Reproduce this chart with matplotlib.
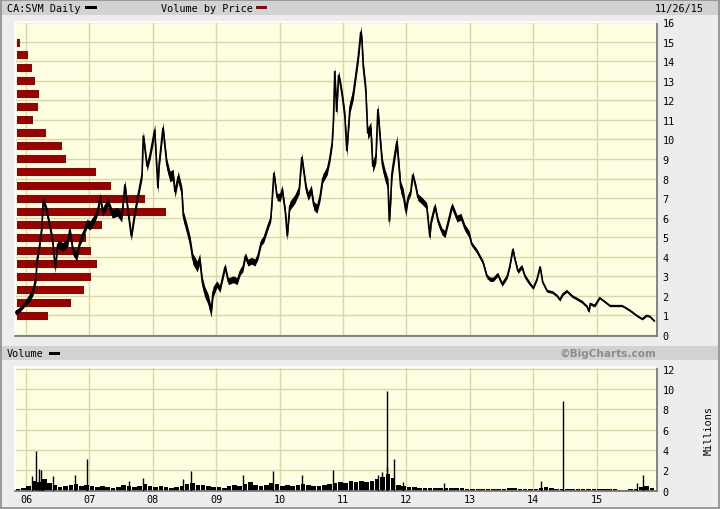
import matplotlib
matplotlib.use('Agg')
import matplotlib.pyplot as plt
import matplotlib.transforms as mtrans
from matplotlib.patches import Rectangle
import pandas as pd

# ── Data ───────────────────────────────────────────────────
# daily price path (decimal year, CAD)
price_t = [
    2005.83, 2005.91, 2005.98, 2006.06, 2006.11, 2006.16, 2006.17, 2006.21, 2006.25, 2006.27,
    2006.33, 2006.36, 2006.41, 2006.43, 2006.46, 2006.50, 2006.58, 2006.66, 2006.69, 2006.74,
    2006.80, 2006.85, 2006.90, 2006.96,
    2007.01, 2007.09, 2007.14, 2007.17, 2007.21, 2007.29, 2007.36, 2007.44, 2007.51, 2007.56,
    2007.61, 2007.66, 2007.72, 2007.77, 2007.83, 2007.85, 2007.91, 2007.96,
    2008.03, 2008.08, 2008.10, 2008.16, 2008.22, 2008.27, 2008.32, 2008.35, 2008.40, 2008.46,
    2008.48, 2008.54, 2008.59, 2008.63, 2008.70, 2008.74, 2008.78, 2008.82, 2008.87, 2008.92,
    2008.95,
    2009.01, 2009.06, 2009.14, 2009.19, 2009.27, 2009.33, 2009.38, 2009.42, 2009.46, 2009.50,
    2009.56, 2009.61, 2009.66, 2009.71, 2009.75, 2009.82, 2009.86, 2009.88, 2009.91, 2009.96,
    2010.01, 2010.04, 2010.09, 2010.12, 2010.16, 2010.24, 2010.31, 2010.35, 2010.42, 2010.45,
    2010.50, 2010.54, 2010.59, 2010.64, 2010.68, 2010.75, 2010.79, 2010.83, 2010.85, 2010.87,
    2010.90, 2010.93, 2010.96, 2010.99,
    2011.03, 2011.06, 2011.08, 2011.11, 2011.16, 2011.21, 2011.24, 2011.28, 2011.30, 2011.32,
    2011.36, 2011.38, 2011.39, 2011.44, 2011.47, 2011.52, 2011.55, 2011.58, 2011.62, 2011.66,
    2011.71, 2011.73, 2011.75, 2011.77, 2011.80, 2011.85, 2011.88, 2011.91, 2011.95, 2011.99,
    2012.03, 2012.07, 2012.10, 2012.15, 2012.18, 2012.25, 2012.32, 2012.37, 2012.39, 2012.45,
    2012.50, 2012.56, 2012.61, 2012.66, 2012.72, 2012.80, 2012.86, 2012.92, 2012.99,
    2013.03, 2013.11, 2013.16, 2013.21, 2013.27, 2013.32, 2013.37, 2013.44, 2013.51, 2013.59,
    2013.63, 2013.68, 2013.71, 2013.76, 2013.82, 2013.87, 2013.92,
    2014.00, 2014.06, 2014.11, 2014.15, 2014.22, 2014.30, 2014.38, 2014.42, 2014.47, 2014.53,
    2014.61, 2014.69, 2014.77, 2014.85, 2014.88, 2014.90, 2014.97,
    2015.05, 2015.13, 2015.21, 2015.32, 2015.40, 2015.48, 2015.55, 2015.63, 2015.72, 2015.79,
    2015.84, 2015.91,
]
price_v = [
    1.15, 1.33, 1.58, 1.94, 2.25, 2.97, 3.78, 4.5, 5.5, 6.9,
    6.3, 5.8, 5.0, 4.5, 3.4, 4.65, 4.5, 4.75, 5.4, 4.3,
    4.0, 4.8, 5.15, 5.7,
    5.6, 6.0, 6.5, 7.05, 6.3, 6.8, 6.2, 6.3, 6.0, 7.7,
    6.3, 5.05, 6.3, 7.2, 8.2, 10.2, 8.6, 9.25,
    10.5, 7.5, 8.75, 10.6, 8.75, 8.1, 8.2, 7.3, 8.1, 7.3,
    6.1, 5.4, 4.75, 3.9, 3.5, 3.9, 2.7, 2.2, 1.85, 1.18,
    2.2,
    2.6, 2.35, 3.5, 2.75, 2.85, 2.75, 3.25, 3.4, 4.05, 3.7,
    3.8, 3.7, 4.05, 4.75, 4.9, 5.6, 5.95, 6.8, 8.3, 7.05,
    7.05, 7.45, 6.3, 5.05, 6.6, 6.95, 7.45, 9.1, 7.45, 7.1,
    7.45, 6.6, 6.45, 7.1, 8.0, 8.4, 9.0, 9.85, 11.0, 13.5,
    11.4, 13.3, 12.8, 12.2,
    11.15, 9.4, 10.3, 11.65, 12.3, 13.5, 14.2, 15.5, 15.0, 13.7,
    12.5, 10.95, 10.3, 10.6, 8.6, 9.1, 11.55, 10.3, 8.75, 8.2,
    7.7, 5.8, 6.8, 8.2, 8.9, 9.9, 8.75, 7.55, 7.2, 6.35,
    7.05, 7.35, 8.2, 7.55, 7.05, 6.85, 6.6, 5.0, 5.8, 6.6,
    5.8, 5.3, 5.15, 5.8, 6.6, 5.95, 6.05, 5.5, 5.15,
    4.65, 4.3, 4.0, 3.7, 3.0, 2.85, 2.85, 3.1, 2.6, 3.0,
    3.5, 4.4, 3.9, 3.25, 3.5, 3.0, 2.75,
    2.4, 2.85, 3.5, 2.7, 2.25, 2.2, 2.0, 1.8, 2.1, 2.25,
    2.0, 1.85, 1.7, 1.45, 1.2, 1.6, 1.5,
    1.9, 1.7, 1.5, 1.5, 1.5, 1.35, 1.2, 1.0, 0.82, 1.0,
    0.95, 0.72,
]
# typical daily high-low range per calendar year (CAD)
range_year = [2005, 2006, 2007, 2008, 2009, 2010, 2011, 2012, 2013, 2014, 2015]
range_cad = [0.25, 0.45, 0.45, 0.55, 0.35, 0.45, 0.6, 0.35, 0.22, 0.14, 0.1]

# volume by price (relative volume per price band)
vbp_price = [0.97, 1.64, 2.30, 2.97, 3.63, 4.29, 4.96, 5.62, 6.29, 6.95, 7.62,
             8.33, 9.00, 9.66, 10.33, 10.99, 11.66, 12.32, 12.99, 13.65, 14.31, 14.93]
vbp_vol = [31, 54, 67, 74, 80, 74, 69, 85, 148, 127, 93,
           79, 49, 45, 29, 16, 21, 22, 18, 15, 11, 3]

# typical daily volume per month (millions), Nov 2005 .. Nov 2015
vol_monthly = [
    0.2, 0.3,
    0.5, 1.0, 0.9, 1.1, 0.8, 0.6, 0.4, 0.5, 0.6, 0.7, 0.5, 0.6,
    0.5, 0.4, 0.5, 0.4, 0.3, 0.4, 0.6, 0.5, 0.4, 0.5, 0.7, 0.5,
    0.4, 0.5, 0.4, 0.3, 0.4, 0.5, 0.7, 0.8, 0.6, 0.6, 0.5, 0.4,
    0.4, 0.3, 0.5, 0.6, 0.5, 0.7, 0.9, 0.6, 0.5, 0.6, 0.8, 0.7,
    0.5, 0.6, 0.5, 0.6, 0.7, 0.6, 0.5, 0.5, 0.6, 0.7, 0.8, 0.9,
    0.8, 1.0, 0.9, 1.0, 0.9, 1.0, 1.1, 1.3, 1.6, 1.2, 0.6, 0.5,
    0.4, 0.4, 0.3, 0.3, 0.3, 0.3, 0.3, 0.3, 0.3, 0.3, 0.3, 0.2,
    0.2, 0.2, 0.2, 0.2, 0.2, 0.2, 0.2, 0.3, 0.3, 0.2, 0.2, 0.2,
    0.2, 0.3, 0.4, 0.3, 0.2, 0.2, 0.2, 0.2, 0.2, 0.2, 0.2, 0.2,
    0.2, 0.2, 0.2, 0.2, 0.1, 0.1, 0.2, 0.2, 0.4, 0.5, 0.3,
]
# single-day volume spikes (decimal year, millions)
spike_t = [2006.09, 2006.16, 2006.21, 2006.24, 2006.27, 2006.43, 2006.77, 2006.96, 2007.62,
           2007.85, 2008.48, 2008.61, 2009.43, 2009.89, 2010.35, 2010.84, 2011.55, 2011.62,
           2011.69, 2011.70, 2011.81, 2011.95, 2012.59, 2014.12, 2014.47, 2015.64, 2015.73]
spike_v = [1.4, 3.86, 2.1, 2.0, 1.0, 1.4, 1.5, 3.1, 1.0,
           1.2, 1.15, 1.9, 1.5, 1.9, 1.5, 2.0, 1.5, 1.8,
           2.3, 9.8, 3.1, 0.9, 0.75, 1.0, 8.8, 0.75, 1.5]

year_ticks = list(range(2006, 2016))
year_labels = ['06', '07', '08', '09', '10', '11', '12', '13', '14', '15']

# ── Style ──────────────────────────────────────────────────
BG_OUT = '#EDEDED'
BG_BAR = '#D2D2D2'
BG_PLOT = '#FEFEE3'
GRID = '#D8D8A2'
RED = '#990000'
MONO = 'DejaVu Sans Mono'
FS = 7.3

W, H = 720, 510
def fx(px): return px / W
def fy(py): return 1 - py / H

fig = plt.figure(figsize=(7.2, 5.1), dpi=100, facecolor=BG_OUT)

# header bars
for top, bot in [(2, 16), (347, 361)]:
    fig.patches.append(Rectangle((fx(2), fy(bot)), fx(716), (bot - top) / H,
                                 transform=fig.transFigure, facecolor=BG_BAR,
                                 edgecolor='none', zorder=0))
fig.patches.append(Rectangle((0.001, 0.001), 0.998, 0.998, transform=fig.transFigure,
                             facecolor='none', edgecolor='#8A8A8A', lw=1.2, zorder=1))

# legend text + swatches
fig.text(fx(7), fy(9), 'CA:SVM Daily', fontsize=FS, family=MONO, va='center', ha='left')
fig.patches.append(Rectangle((fx(85), fy(10)), fx(12), 3 / H, transform=fig.transFigure,
                             facecolor='black', edgecolor='none'))
fig.text(fx(161), fy(9), 'Volume by Price', fontsize=FS, family=MONO, va='center', ha='left')
fig.patches.append(Rectangle((fx(256), fy(10)), fx(11), 3 / H, transform=fig.transFigure,
                             facecolor=RED, edgecolor='none'))
fig.text(fx(704), fy(9), '11/26/15', fontsize=FS, family=MONO, va='center', ha='right')

fig.text(fx(7), fy(354), 'Volume', fontsize=FS, family=MONO, va='center', ha='left')
fig.patches.append(Rectangle((fx(49), fy(356)), fx(11), 3 / H, transform=fig.transFigure,
                             facecolor='black', edgecolor='none'))
fig.text(fx(656), fy(354), '©BigCharts.com', fontsize=7.6, fontweight='bold',
         color='#8C8C8C', va='center', ha='right')
fig.text(fx(709), fy(431), 'Millions', fontsize=FS, family=MONO, rotation=90,
         va='center', ha='center')

# ── Axes ───────────────────────────────────────────────────
ax = fig.add_axes([fx(15), fy(337), fx(642), 314 / H])
axv = fig.add_axes([fx(15), fy(492), fx(642), 124 / H], sharex=ax)

for a in (ax, axv):
    a.set_facecolor(BG_PLOT)
    a.grid(True, color=GRID, lw=1.0)
    a.set_axisbelow(True)
    a.yaxis.tick_right()
    a.tick_params(length=0, labelsize=FS, pad=4)
    a.spines['left'].set_color('white')
    a.spines['top'].set_color('white')
    a.spines['right'].set_color('#7A7A7A')
    a.spines['bottom'].set_color('#7A7A7A')
    for s in a.spines.values():
        s.set_linewidth(1.3)

ax.set_xlim(2005.826, 2015.953)
ax.set_xticks(year_ticks)
ax.set_ylim(-0.05, 16.0)
ax.set_yticks(range(0, 17))
ax.tick_params(axis='x', labelbottom=False)

# volume-by-price bars (x in axes fraction, y in price)
trans = mtrans.blended_transform_factory(ax.transAxes, ax.transData)
vmax = max(vbp_vol)
ax.barh(vbp_price, [v / vmax * 0.232 for v in vbp_vol], height=0.42, left=0.003,
        color=RED, edgecolor='none', transform=trans, zorder=2)

# price: high-low band + close path
rng = [range_cad[range_year.index(int(t))] for t in price_t]
lo = [v - r / 2 for v, r in zip(price_v, rng)]
hi = [v + r / 2 for v, r in zip(price_v, rng)]
ax.fill_between(price_t, lo, hi, color='black', lw=0, zorder=3)
ax.plot(price_t, price_v, color='black', lw=1.2, solid_joinstyle='miter', zorder=3)

# volume panel
dates = pd.date_range('2005-11-01', periods=len(vol_monthly), freq='MS')
vol_t = [d.year + (d.dayofyear - 1) / 365.25 + 0.5 / 12 for d in dates]
axv.bar(vol_t, vol_monthly, width=0.072, color='black', edgecolor='none', zorder=2)
axv.vlines(spike_t, 0, spike_v, color='black', lw=1.0, zorder=3)
axv.set_ylim(-0.03, 12.15)
axv.set_yticks(range(0, 13, 2))
axv.set_xticks(year_ticks)
axv.set_xticklabels(year_labels)
axv.tick_params(axis='x', pad=2)
for a in (ax, axv):
    for lab in a.get_yticklabels() + a.get_xticklabels():
        lab.set_family(MONO)

fig.savefig('out.png', dpi=100, facecolor=BG_OUT)
